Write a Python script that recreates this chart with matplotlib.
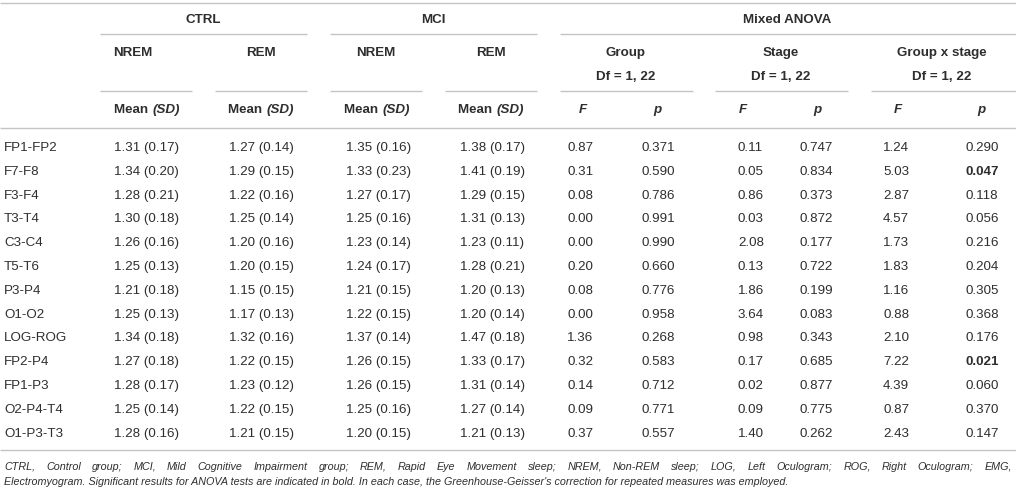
import matplotlib.pyplot as plt

plt.rcParams['font.family'] = ['Liberation Sans', 'DejaVu Sans']

# Datos de la tabla
channels = ['FP1-FP2', 'F7-F8', 'F3-F4', 'T3-T4', 'C3-C4', 'T5-T6', 'P3-P4',
            'O1-O2', 'LOG-ROG', 'FP2-P4', 'FP1-P3', 'O2-P4-T4', 'O1-P3-T3']
ctrl_nrem_mean = [1.31, 1.34, 1.28, 1.30, 1.26, 1.25, 1.21, 1.25, 1.34, 1.27, 1.28, 1.25, 1.28]
ctrl_nrem_sd = [0.17, 0.20, 0.21, 0.18, 0.16, 0.13, 0.18, 0.13, 0.18, 0.18, 0.17, 0.14, 0.16]
ctrl_rem_mean = [1.27, 1.29, 1.22, 1.25, 1.20, 1.20, 1.15, 1.17, 1.32, 1.22, 1.23, 1.22, 1.21]
ctrl_rem_sd = [0.14, 0.15, 0.16, 0.14, 0.16, 0.15, 0.15, 0.13, 0.16, 0.15, 0.12, 0.15, 0.15]
mci_nrem_mean = [1.35, 1.33, 1.27, 1.25, 1.23, 1.24, 1.21, 1.22, 1.37, 1.26, 1.26, 1.25, 1.20]
mci_nrem_sd = [0.16, 0.23, 0.17, 0.16, 0.14, 0.17, 0.15, 0.15, 0.14, 0.15, 0.15, 0.16, 0.15]
mci_rem_mean = [1.38, 1.41, 1.29, 1.31, 1.23, 1.28, 1.20, 1.20, 1.47, 1.33, 1.31, 1.27, 1.21]
mci_rem_sd = [0.17, 0.19, 0.15, 0.13, 0.11, 0.21, 0.13, 0.14, 0.18, 0.17, 0.14, 0.14, 0.13]
group_f = [0.87, 0.31, 0.08, 0.00, 0.00, 0.20, 0.08, 0.00, 1.36, 0.32, 0.14, 0.09, 0.37]
group_p = [0.371, 0.590, 0.786, 0.991, 0.990, 0.660, 0.776, 0.958, 0.268, 0.583, 0.712, 0.771, 0.557]
stage_f = [0.11, 0.05, 0.86, 0.03, 2.08, 0.13, 1.86, 3.64, 0.98, 0.17, 0.02, 0.09, 1.40]
stage_p = [0.747, 0.834, 0.373, 0.872, 0.177, 0.722, 0.199, 0.083, 0.343, 0.685, 0.877, 0.775, 0.262]
inter_f = [1.24, 5.03, 2.87, 4.57, 1.73, 1.83, 1.16, 0.88, 2.10, 7.22, 4.39, 0.87, 2.43]
inter_p = [0.290, 0.047, 0.118, 0.056, 0.216, 0.204, 0.305, 0.368, 0.176, 0.021, 0.060, 0.370, 0.147]

footnote_1 = ("CTRL, Control group; MCI, Mild Cognitive Impairment group; REM, Rapid Eye Movement sleep; "
              "NREM, Non-REM sleep; LOG, Left Oculogram; ROG, Right Oculogram; EMG,")
footnote_2 = ("Electromyogram. Significant results for ANOVA tests are indicated in bold. In each case, "
              "the Greenhouse-Geisser's correction for repeated measures was employed.")

W, H = 1016, 491
fig = plt.figure(figsize=(W / 100, H / 100), dpi=100)
ax = fig.add_axes([0, 0, 1, 1])
ax.set_xlim(0, W)
ax.set_ylim(H, 0)
ax.axis('off')
renderer = fig.canvas.get_renderer()

txt_color = '#2e2e2e'
line_color = '#c4c4c4'
fs = 9.6


def hline(x0, x1, y):
    ax.plot([x0, x1], [y, y], color=line_color, lw=1.0, solid_capstyle='butt')


def width_of(t):
    return t.get_window_extent(renderer=renderer).width


def runs(x, y, parts, size=fs, color=txt_color):
    # parts: lista de (texto, peso, estilo), centrada en x
    objs = [ax.text(0, y, s, fontsize=size, fontweight=w, fontstyle=st,
                    color=color, va='center', ha='left') for s, w, st in parts]
    widths = [width_of(o) for o in objs]
    x0 = x - sum(widths) / 2
    for o, wd in zip(objs, widths):
        o.set_x(x0)
        x0 += wd


# Lineas
hline(0, W, 2.5)
hline(100, 307, 34)
hline(330, 537, 34)
hline(560, W, 34)
for a, b in [(100, 192), (215, 307), (330, 422), (445, 537), (560, 693), (715, 848), (871, W)]:
    hline(a, b, 91)
hline(0, W, 128)
hline(0, W, 450)

# Encabezados
bold = dict(fontsize=fs, fontweight='bold', color=txt_color, va='center')
ax.text(203, 20, 'CTRL', ha='center', **bold)
ax.text(433, 20, 'MCI', ha='center', **bold)
ax.text(787, 20, 'Mixed ANOVA', ha='center', **bold)
ax.text(113, 53, 'NREM', ha='left', **bold)
ax.text(261, 53, 'REM', ha='center', **bold)
ax.text(376, 53, 'NREM', ha='center', **bold)
ax.text(491, 53, 'REM', ha='center', **bold)
for cx, name in [(626, 'Group'), (781, 'Stage'), (942, 'Group x stage')]:
    ax.text(cx, 53, name, ha='center', **bold)
    ax.text(cx, 77, 'Df = 1, 22', ha='center', **bold)

for cx in [147, 261, 377, 491]:
    runs(cx, 110, [('Mean ', 'bold', 'normal'), ('(SD)', 'bold', 'italic')])
for cx, lab in zip([583, 657, 743, 817, 898, 981], ['F', 'p', 'F', 'p', 'F', 'p']):
    ax.text(cx, 110, lab, ha='center', fontstyle='italic', **bold)

# Filas (valores alineados a la izquierda)
mean_x = [114, 229, 346, 460]
stat_x = [567, 642, 738, 800, 883, 966]
row0, step = 148, 23.8
mean_data = [(ctrl_nrem_mean, ctrl_nrem_sd), (ctrl_rem_mean, ctrl_rem_sd),
             (mci_nrem_mean, mci_nrem_sd), (mci_rem_mean, mci_rem_sd)]
stat_data = [(group_f, group_p), (stage_f, stage_p), (inter_f, inter_p)]
for i, ch in enumerate(channels):
    y = row0 + i * step
    ax.text(4, y, ch, fontsize=fs, color=txt_color, va='center', ha='left')
    for x, (m, s) in zip(mean_x, mean_data):
        ax.text(x, y, f'{m[i]:.2f} ({s[i]:.2f})', fontsize=fs, color=txt_color,
                va='center', ha='left')
    for k, (f, p) in enumerate(stat_data):
        ax.text(stat_x[2 * k], y, f'{f[i]:.2f}', fontsize=fs, color=txt_color,
                va='center', ha='left')
        ax.text(stat_x[2 * k + 1], y, f'{p[i]:.3f}', fontsize=fs, color=txt_color,
                va='center', ha='left', fontweight='bold' if p[i] < 0.05 else 'normal')

# Nota al pie (primera linea justificada)
probe = ax.text(0, 0, footnote_2, fontsize=9, fontstyle='italic')
fn_size = 9 * 782 / width_of(probe)
probe.remove()
fn_kw = dict(fontsize=fn_size, fontstyle='italic', color=txt_color, va='center', ha='left')
ax.text(4, 482, footnote_2, **fn_kw)

words = footnote_1.split(' ')
wobjs = [ax.text(0, 466.5, w_, **fn_kw) for w_ in words]
wws = [width_of(o) for o in wobjs]
gap = (1012 - 4 - sum(wws)) / (len(words) - 1)
xpos = 4
for o, wd in zip(wobjs, wws):
    o.set_x(xpos)
    xpos += wd + gap

fig.savefig('out.png', dpi=100)
